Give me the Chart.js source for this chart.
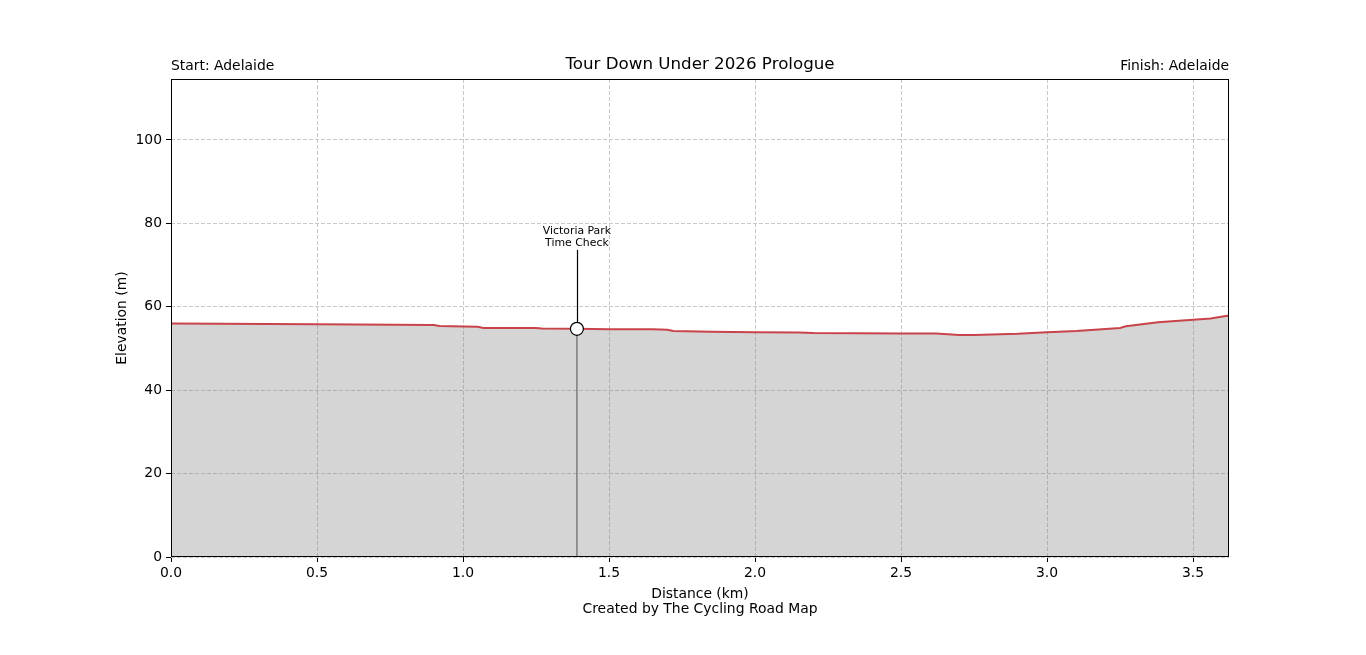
<!DOCTYPE html>
<html>
<head>
<meta charset="utf-8">
<script src="https://cdn.jsdelivr.net/npm/chart.js@4.4.1/dist/chart.umd.min.js"></script>
<style>
  html, body { margin: 0; padding: 0; background: #fff; }
  canvas { display: block; }
</style>
</head>
<body>
<canvas id="profile" width="1366" height="655"></canvas>
<script>
// Stage profile data
const distKm = [0, 0.5, 0.9, 0.92, 1.05, 1.07, 1.25, 1.27, 1.39, 1.5, 1.65, 1.7, 1.72, 1.85, 2.0, 2.15, 2.2, 2.5, 2.62, 2.7, 2.75, 2.9, 3.0, 3.1, 3.25, 3.27, 3.38, 3.5, 3.56, 3.623];
const elevM  = [56.0, 55.8, 55.6, 55.4, 55.2, 54.9, 54.9, 54.8, 54.7, 54.6, 54.6, 54.5, 54.2, 54.0, 53.9, 53.8, 53.7, 53.6, 53.6, 53.2, 53.2, 53.5, 53.9, 54.2, 54.9, 55.3, 56.3, 56.9, 57.2, 57.9];

// Checkpoints
const cpDist = [1.39];
const cpElev = [54.7];
const cpName = [['Victoria Park', 'Time Check']];

// Ticks
const xTicks = [0, 0.5, 1.0, 1.5, 2.0, 2.5, 3.0, 3.5];
const yTicks = [0, 20, 40, 60, 80, 100];
const xMax = 3.623;
const yMax = 114.6;

const titleText = 'Tour Down Under 2026 Prologue';
const startText = 'Start: Adelaide';
const finishText = 'Finish: Adelaide';
const xTitle = 'Distance (km)';
const yTitle = 'Elevation (m)';
const creditText = 'Created by The Cycling Road Map';

const FONT = '"DejaVu Sans", sans-serif';

const profilePts = distKm.map((d, i) => ({ x: d, y: elevM[i] }));
const cpPts = cpDist.map((d, i) => ({ x: d, y: cpElev[i] }));
const cpLines = [];
cpDist.forEach((d, i) => {
  cpLines.push({ x: d, y: 0 }, { x: d, y: cpElev[i] }, { x: NaN, y: NaN });
});

// texts, frame and checkpoint labels
const decorPlugin = {
  id: 'decor',
  afterDraw(chart) {
    const { ctx, chartArea: a, scales } = chart;
    ctx.save();
    // frame
    ctx.strokeStyle = '#000';
    ctx.lineWidth = 1;
    ctx.strokeRect(Math.round(a.left) + 0.5, Math.round(a.top) + 0.5, Math.round(a.right - a.left) - 1, Math.round(a.bottom - a.top) - 1);

    ctx.fillStyle = '#000';
    ctx.textBaseline = 'middle';
    ctx.font = '16.7px ' + FONT;
    ctx.textAlign = 'center';
    ctx.fillText(titleText, (a.left + a.right) / 2, 65);

    ctx.font = '13.9px ' + FONT;
    ctx.textAlign = 'left';
    ctx.fillText(startText, a.left, 66);
    ctx.textAlign = 'right';
    ctx.fillText(finishText, a.right, 66);

    ctx.textAlign = 'center';
    ctx.fillText(xTitle, (a.left + a.right) / 2, 594);
    ctx.fillText(creditText, (a.left + a.right) / 2, 609);

    ctx.save();
    ctx.translate(122, (a.top + a.bottom) / 2);
    ctx.rotate(-Math.PI / 2);
    ctx.fillText(yTitle, 0, 0);
    ctx.restore();

    // checkpoint annotations
    cpDist.forEach((d, i) => {
      const px = scales.x.getPixelForValue(d);
      const py = scales.y.getPixelForValue(cpElev[i]);
      ctx.strokeStyle = '#000';
      ctx.lineWidth = 1.2;
      ctx.beginPath();
      ctx.moveTo(Math.round(px) + 0.5, py - 7);
      ctx.lineTo(Math.round(px) + 0.5, py - 79);
      ctx.stroke();
      ctx.font = '10.9px ' + FONT;
      ctx.textAlign = 'center';
      const lines = cpName[i];
      lines.forEach((t, k) => {
        ctx.fillText(t, px, py - 98 + k * 12.5);
      });
    });
    ctx.restore();
  }
};

new Chart(document.getElementById('profile'), {
  type: 'line',
  data: {
    datasets: [
      {
        label: 'Checkpoint line',
        data: cpLines,
        borderColor: '#666666',
        borderWidth: 1.2,
        pointRadius: 0,
        spanGaps: false,
        fill: false,
        order: 2
      },
      {
        label: 'Elevation',
        data: profilePts,
        borderColor: '#c9434a',
        borderWidth: 2,
        backgroundColor: 'rgba(128,128,128,0.33)',
        fill: 'origin',
        pointRadius: 0,
        tension: 0,
        order: 3
      },
      {
        label: 'Checkpoints',
        data: cpPts,
        showLine: false,
        pointRadius: 6.5,
        pointBackgroundColor: '#fff',
        pointBorderColor: '#000',
        pointBorderWidth: 1.2,
        order: 1
      }
    ]
  },
  options: {
    responsive: false,
    animation: false,
    devicePixelRatio: 1,
    layout: { padding: { top: 79, right: 137, left: 0, bottom: 0 } },
    plugins: {
      legend: { display: false },
      tooltip: { enabled: false }
    },
    scales: {
      x: {
        type: 'linear',
        min: 0,
        max: xMax,
        afterFit(s) { s.height = 98; },
        afterBuildTicks(s) { s.ticks = xTicks.map(v => ({ value: v })); },
        ticks: {
          color: '#000',
          font: { family: FONT, size: 13.9 },
          padding: 3,
          maxRotation: 0,
          callback: v => Number(v).toFixed(1)
        },
        grid: {
          color: '#c8c8c8',
          lineWidth: 1,
          tickColor: '#000',
          tickLength: 5,
          tickBorderDash: []
        },
        border: { display: false, dash: [4, 2] }
      },
      y: {
        type: 'linear',
        min: 0,
        max: yMax,
        afterFit(s) { s.width = 171; },
        afterBuildTicks(s) { s.ticks = yTicks.map(v => ({ value: v })); },
        ticks: {
          color: '#000',
          font: { family: FONT, size: 13.9 },
          padding: 4,
          callback: v => String(v)
        },
        grid: {
          color: '#c8c8c8',
          lineWidth: 1,
          tickColor: '#000',
          tickLength: 5,
          tickBorderDash: []
        },
        border: { display: false, dash: [4, 2] }
      }
    }
  },
  plugins: [decorPlugin]
});
</script>
</body>
</html>
